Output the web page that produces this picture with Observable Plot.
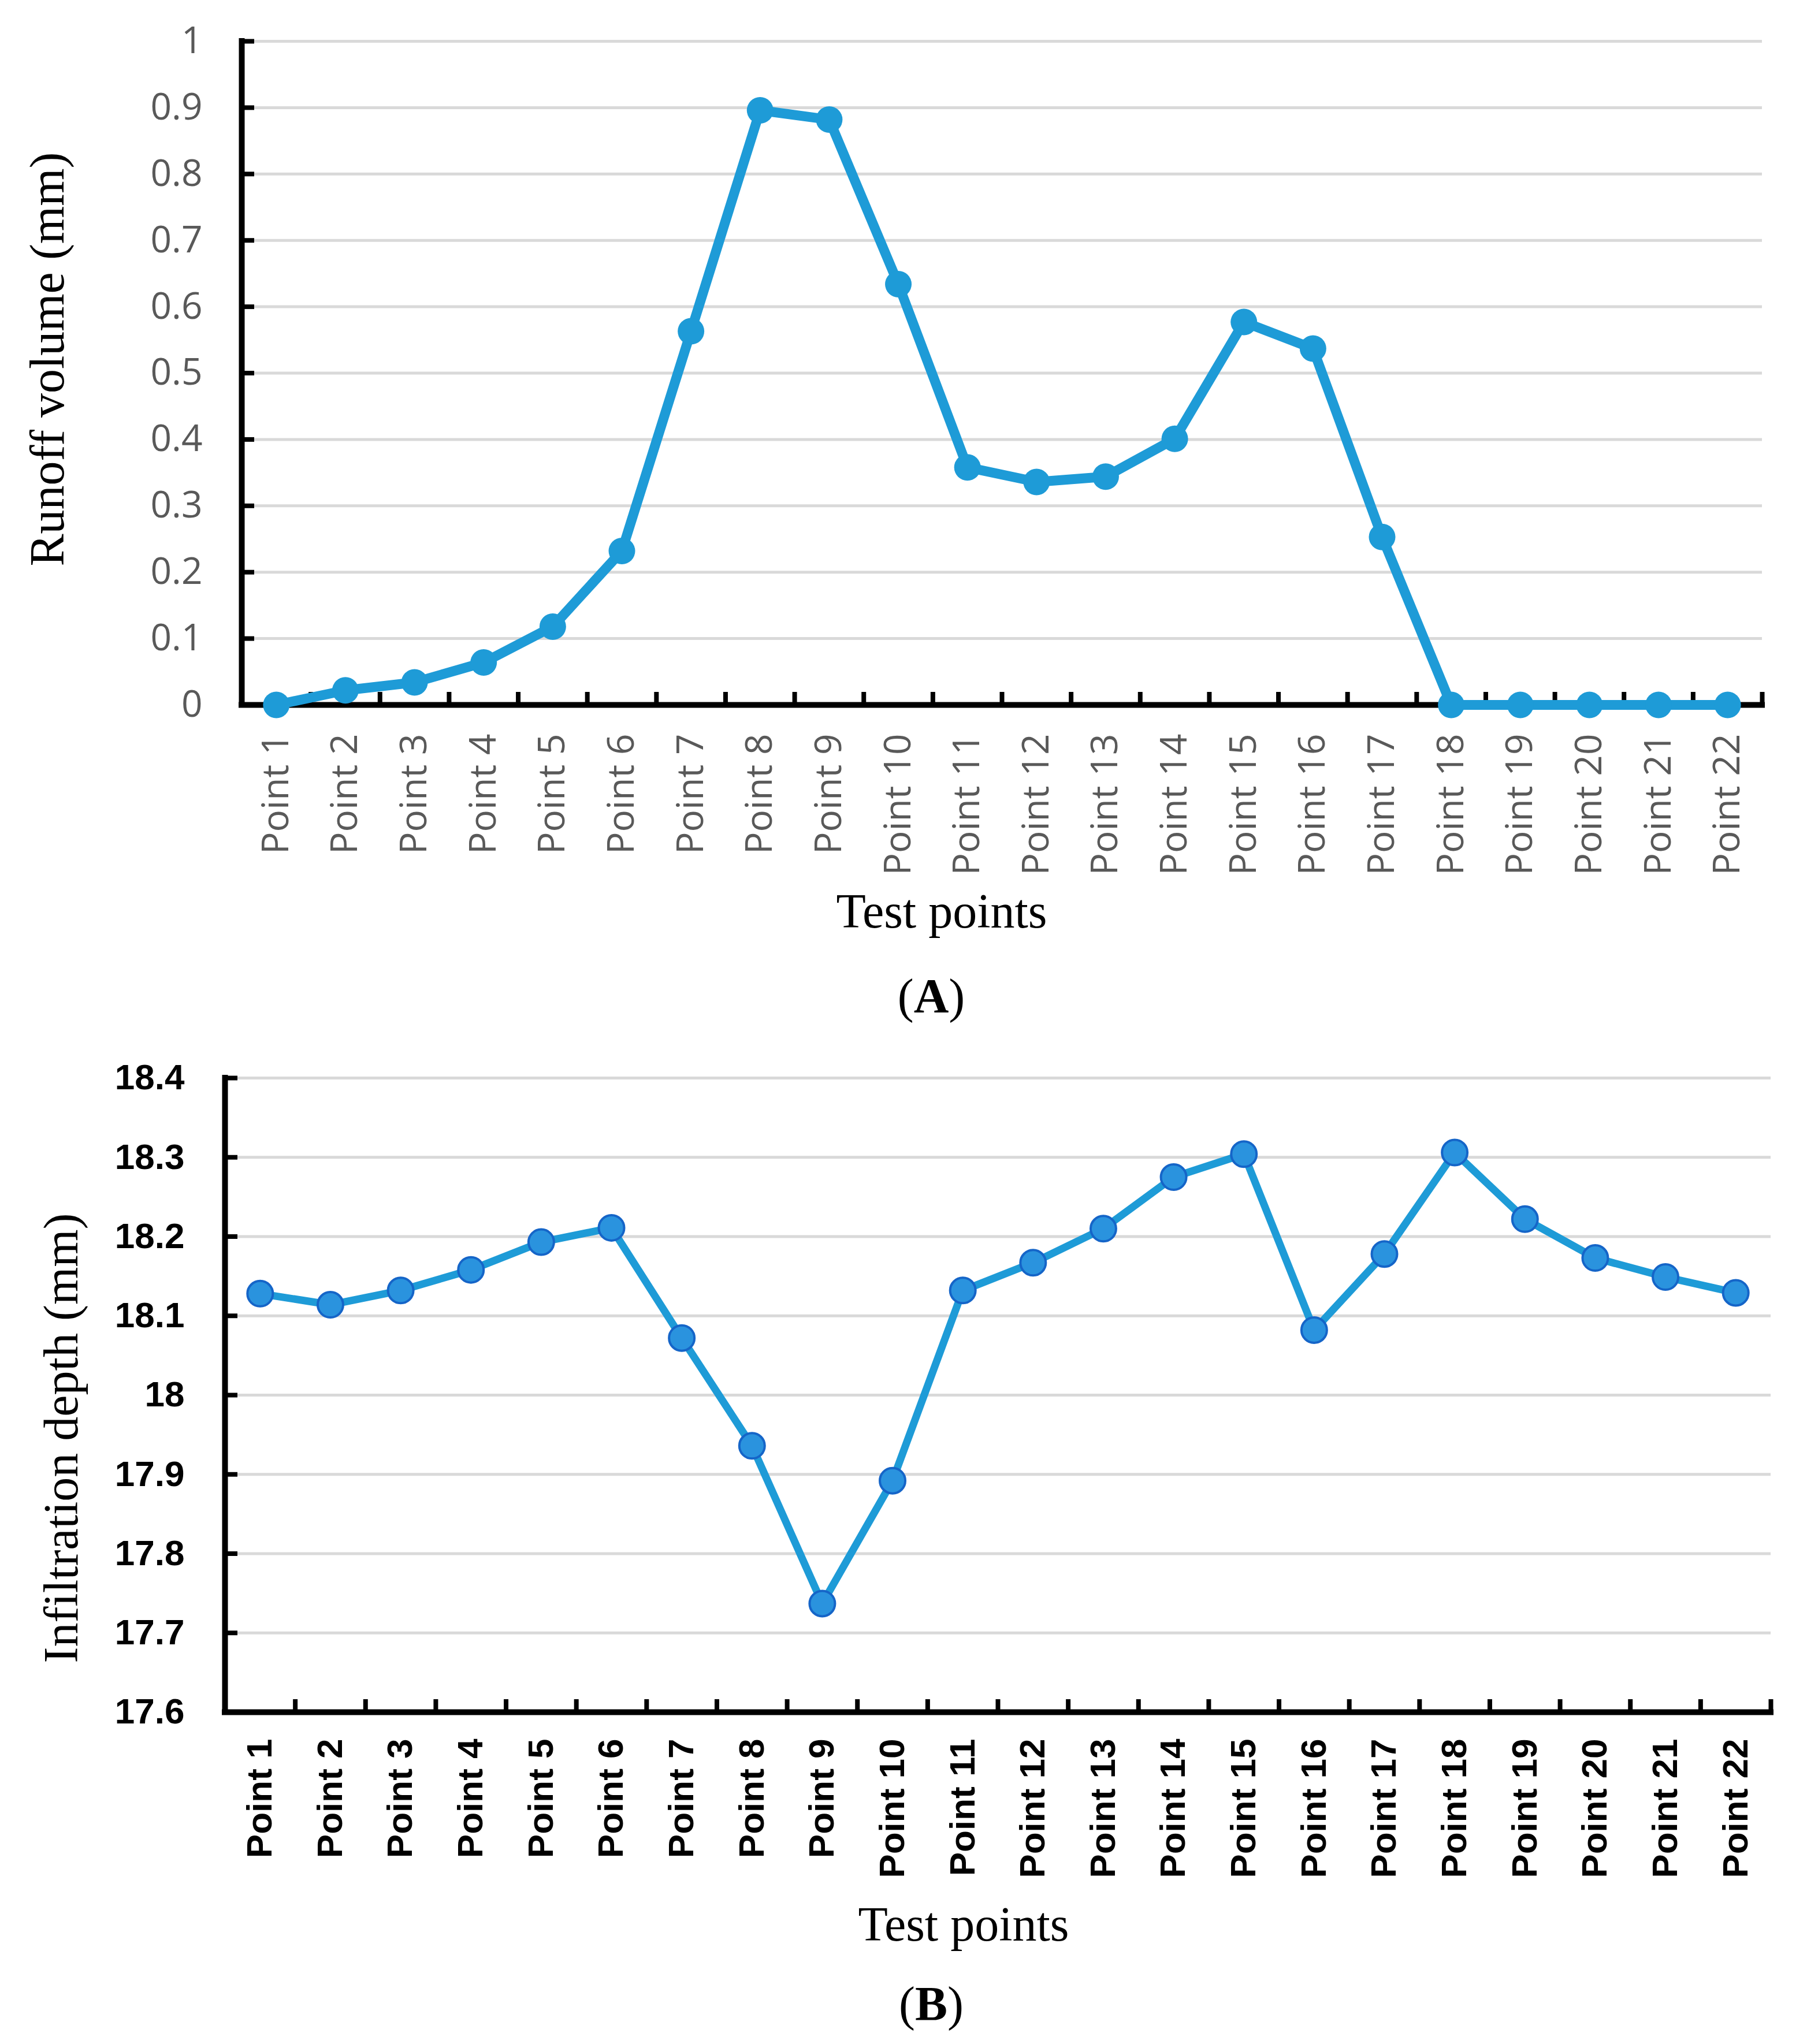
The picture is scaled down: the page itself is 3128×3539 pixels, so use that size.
<!DOCTYPE html>
<html><head><meta charset="utf-8">
<script src="https://cdn.jsdelivr.net/npm/d3@7"></script>
<script src="https://cdn.jsdelivr.net/npm/@observablehq/plot@0.6"></script>
<style>
body{margin:0;background:#fff}
#wrap{position:relative;width:3128px;height:3539px;background:#fff;overflow:hidden}
.abs{position:absolute}
.ttl{font-family:"Liberation Serif","Times New Roman",serif;font-size:84px;line-height:1;white-space:nowrap;color:#000}
</style></head><body><div id="wrap"></div>
<script>
// ---- data ----
const points = ["Point 1","Point 2","Point 3","Point 4","Point 5","Point 6","Point 7","Point 8","Point 9","Point 10","Point 11","Point 12","Point 13","Point 14","Point 15","Point 16","Point 17","Point 18","Point 19","Point 20","Point 21","Point 22"];
const runoff = [0, 0.022, 0.034, 0.064, 0.118, 0.232, 0.563, 0.896, 0.882, 0.634, 0.358, 0.336, 0.344, 0.401, 0.577, 0.537, 0.253, 0, 0, 0, 0, 0];
const infiltration = [18.128, 18.114, 18.132, 18.158, 18.193, 18.211, 18.072, 17.936, 17.737, 17.892, 18.132, 18.167, 18.210, 18.275, 18.304, 18.082, 18.178, 18.306, 18.222, 18.173, 18.149, 18.129];
const runoffTicks = [0, 0.1, 0.2, 0.3, 0.4, 0.5, 0.6, 0.7, 0.8, 0.9, 1];
const runoffTickLabels = ["0", "0.1", "0.2", "0.3", "0.4", "0.5", "0.6", "0.7", "0.8", "0.9", "1"];
const infilTicks = [17.6, 17.7, 17.8, 17.9, 18.0, 18.1, 18.2, 18.3, 18.4];
const infilTickLabels = ["17.6", "17.7", "17.8", "17.9", "18", "18.1", "18.2", "18.3", "18.4"];
const runoffDomain = [0, 1];
const infilDomain = [17.6, 18.4];
const xDomain = [0.5, points.length + 0.5];
const xPositions = points.map((_, i) => i + 1);
const xBoundaries = d3.range(points.length + 1).map(i => i + 0.5);

function panel(o) {
  const data = points.map((p, i) => ({p, x: xPositions[i], y: o.values[i]}));
  return Plot.plot({
    width: 3128, height: o.height,
    marginTop: o.mt, marginBottom: o.mb, marginLeft: o.ml, marginRight: o.mr,
    x: {type: "linear", domain: xDomain, label: null},
    y: {domain: o.yDomain, label: null},
    style: {fontFamily: o.font.fontFamily, fontSize: o.font.fontSize + "px", background: "transparent", overflow: "visible", color: "#000"},
    marks: [
      Plot.gridY(o.yTicks, {stroke: "#d9d9d9", strokeOpacity: 1, strokeWidth: 5}),
      Plot.axisX(xBoundaries, {tickSize: -22, strokeWidth: 8, stroke: "#000", tickFormat: () => "", label: null}),
      Plot.axisX(xPositions, {tickSize: 0, tickPadding: o.xPad, tickRotate: -90, tickFormat: d => points[d - 1], label: null, ...o.font}),
      Plot.axisY(o.yTicks, {tickSize: -22, strokeWidth: 8, stroke: "#000", tickFormat: () => "", label: null}),
      Plot.axisY(o.yTicks, {tickSize: 0, tickPadding: o.yPad, tickFormat: (d, i) => o.yTickLabels[i], label: null, ...o.font}),
      Plot.ruleY([o.yDomain[0]], {stroke: "#000", strokeWidth: 10, strokeLinecap: "square"}),
      Plot.ruleX([xDomain[0]], {stroke: "#000", strokeWidth: 10, strokeLinecap: "square"}),
      Plot.line(data, {x: "x", y: "y", stroke: o.lineColor, strokeWidth: o.lineWidth, strokeLinejoin: "round", strokeLinecap: "round"}),
      Plot.dot(data, {x: "x", y: "y", r: o.r, fill: o.dotFill, stroke: o.dotStroke, strokeWidth: o.dotStrokeWidth})
    ]
  });
}

const wrap = document.getElementById("wrap");
function place(el, top) { const d = document.createElement("div"); d.className = "abs"; d.style.left = "0px"; d.style.top = top + "px"; d.appendChild(el); wrap.appendChild(d); }
function text(html, left, top, rotate) {
  const d = document.createElement("div");
  d.className = "abs ttl";
  d.innerHTML = html;
  d.style.left = left + "px"; d.style.top = top + "px";
  d.style.transform = rotate ? "translate(-50%,-50%) rotate(-90deg)" : "translate(-50%,0)";
  wrap.appendChild(d);
}

const chartA = panel({
  values: runoff, yDomain: runoffDomain, yTicks: runoffTicks, yTickLabels: runoffTickLabels,
  height: 1560, mt: 71, mb: 340, ml: 418, mr: 78, xPad: 50, yPad: 68,
  font: {fontFamily: "Open Sans", fontSize: 64, fill: "#595959"},
  lineColor: "#1E9BD7", lineWidth: 17, r: 23, dotFill: "#1E9BD7", dotStroke: "none", dotStrokeWidth: 0
});
place(chartA, 0);

const chartB = panel({
  values: infiltration, yDomain: infilDomain, yTicks: infilTicks, yTickLabels: infilTickLabels,
  height: 1480, mt: 86, mb: 296, ml: 389, mr: 63, xPad: 46, yPad: 70,
  font: {fontFamily: "Liberation Sans", fontSize: 62, fontWeight: "bold", fill: "#000"},
  lineColor: "#1E9BD7", lineWidth: 13, r: 22, dotFill: "#2A93DE", dotStroke: "#1565C8", dotStrokeWidth: 4
});
place(chartB, 1780);

text("Runoff volume (mm)", 82, 622, true);
text("Test points", 1630, 1536, false);
text("(<b>A</b>)", 1612, 1683, false);
text("Infiltration depth (mm)", 106, 2490, true);
text("Test points", 1668, 3290, false);
text("(<b>B</b>)", 1612, 3428, false);
</script></body></html>
